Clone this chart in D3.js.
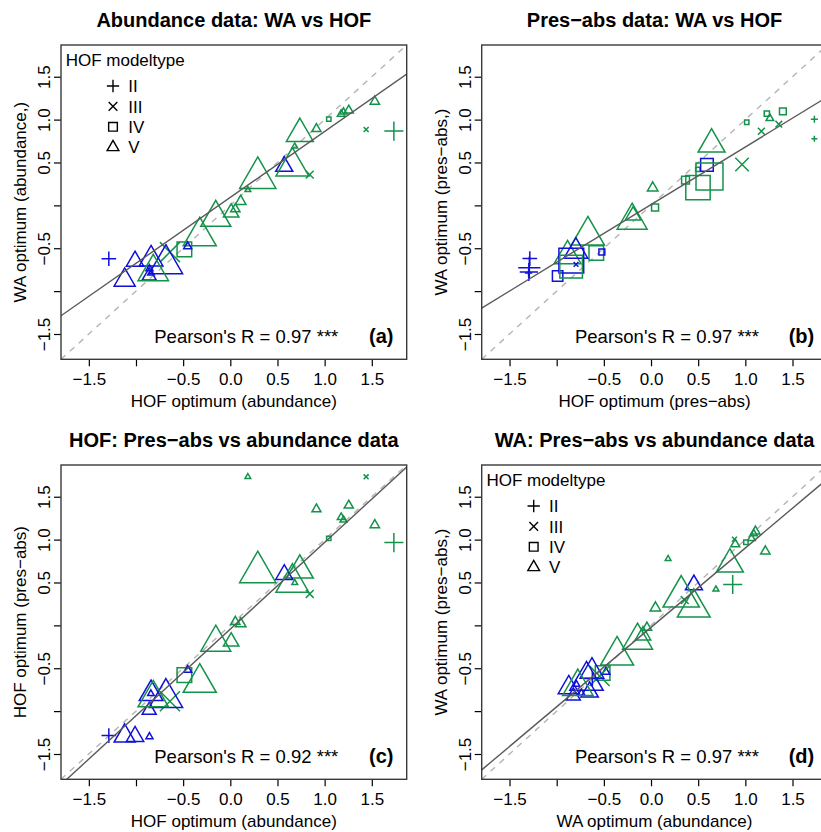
<!DOCTYPE html>
<html><head><meta charset="utf-8">
<script src="https://cdn.jsdelivr.net/npm/d3@7"></script>
<style>
html,body{margin:0;padding:0;background:#fff;}
svg{display:block;font-family:"Liberation Sans",Arial,sans-serif;}
</style></head>
<body>
<svg id="chart" width="821" height="832"></svg>
<script>
// ---- species data (one entry per species) ----
const abHOF = [1.734, 1.44, 1.532, 1.175, 1.20, 1.256, 1.044, 0.913, 0.737, 0.683, 0.572, 0.658, 0.291, 0.842, 0.186, -0.154, -0.324, 0.009, 0.053, 0.11, -0.487, -0.452, -0.64, -1.01, -0.84, -0.683, -1.12, -0.86, -0.857, -0.842, -0.817, -1.288];
const abWA  = [0.866, 0.885, 1.212, 1.065, 1.09, 1.107, 1.006, 0.893, 0.836, 0.688, 0.455, 0.453, 0.32, 0.358, 0.181, -0.143, -0.36, -0.085, -0.043, 0.047, -0.513, -0.478, -0.545, -0.651, -0.626, -0.684, -0.872, -0.824, -0.738, -0.79, -0.776, -0.622];
const paHOF = [0.965, 1.732, 1.17, 1.26, 1.228, 1.398, 1.015, 1.355, 0.642, 0.496, 0.593, 0.498, 0.62, 0.366, 1.732, -0.2, -0.669, -0.19, 0.043, 0.018, -0.58, -0.521, -0.885, -1.295, -0.797, -0.845, -1.29, -0.99, -1.298, -0.795, -0.847, -1.285];
const paWA  = [0.476, 1.004, 0.864, 1.015, 1.07, 1.097, 0.969, 0.946, 0.713, 0.42, 0.472, 0.207, 0.336, 0.295, 0.777, -0.177, -0.352, -0.118, -0.024, 0.204, -0.556, -0.544, -0.59, -0.777, -0.536, -0.645, -0.726, -0.824, -0.79, -0.688, -0.715, -0.621];
const typeAb = ["II","III","V","V","V","V","IV","V","V","V","V","V","V","III","V","V","V","V","V","V","IV","V","III","V","V","V","V","V","V","V","V","II"];
const typePa = ["III","II","III","V","IV","IV","IV","III","V","IV","IV","IV","IV","IV","II","V","V","V","IV","V","IV","IV","V","II","V","IV","II","IV","II","III","IV","II"];
const group  = [1,1,1,1,1,1,1,1,1,1,2,1,1,1,1,1,1,1,1,1,1,2,1,2,2,2,2,2,2,2,1,2];
const weight = [1.55, 0.57, 0.8, 0.65, 0.6, 0.78, 0.5, 0.77, 2.3, 0.5, 1.45, 2.8, 3.1, 0.9, 0.49, 2.56, 2.82, 1.32, 0.8, 0.9, 1.68, 0.68, 2.3, 1.48, 2.02, 2.85, 1.8, 1.2, 0.6, 0.55, 2.6, 1.19];

// ---- regression fits (intercept, slope) and correlations per panel ----
const fitIntercept = [0.093, 0.009, -0.043, -0.023];
const fitSlope     = [0.769, 0.672, 1.0105, 0.926];
const pearson      = ["0.97", "0.97", "0.92", "0.97"];

// ---- axes ----
const tickValues  = [-1.5, -1.0, -0.5, 0.0, 0.5, 1.0, 1.5];
const xTickLabels = ["\u22121.5", "", "\u22120.5", "0.0", "0.5", "1.0", "1.5"];
const yTickLabels = ["\u22121.5", "", "\u22120.5", "", "0.5", "1.0", "1.5"];
const axisDomain  = [-1.795, 1.87];

const legendTypes  = ["II", "III", "IV", "V"];
const titles = ["Abundance data: WA vs HOF", "Pres\u2212abs data: WA vs HOF",
                "HOF: Pres\u2212abs vs abundance data", "WA: Pres\u2212abs vs abundance data"];
const xLabels = ["HOF optimum (abundance)", "HOF optimum (pres\u2212abs)", "HOF optimum (abundance)", "WA optimum (abundance)"];
const yLabels = ["WA optimum (abundance,)", "WA optimum (pres\u2212abs,)", "HOF optimum (pres\u2212abs)", "WA optimum (pres\u2212abs,)"];
const letters = ["(a)", "(b)", "(c)", "(d)"];

const colorOf = {1: "#14924a", 2: "#1010d8"};

const panels = [
  {x: abHOF, y: abWA,  t: typeAb, left: 61,    top: 45,  legend: true},
  {x: paHOF, y: paWA,  t: typePa, left: 481.7, top: 45,  legend: false},
  {x: abHOF, y: paHOF, t: typeAb, left: 61,    top: 465, legend: false},
  {x: abWA,  y: paWA,  t: typeAb, left: 481.7, top: 465, legend: true}
];
const PW = 345.7, PH = 314.3;
const UNIT = 4.35; // symbol radius per unit of weight

function symbolPath(t, R) {
  if (t === "II") { const a = 1.4142 * R; return `M${-a},0H${a}M0,${-a}V${a}`; }
  if (t === "III") { return `M${-R},${-R}L${R},${R}M${-R},${R}L${R},${-R}`; }
  if (t === "IV") { return `M${-R},${-R}H${R}V${R}H${-R}Z`; }
  return `M0,${-1.5551*R}L${1.3468*R},${0.7776*R}H${-1.3468*R}Z`;
}

const svg = d3.select("#chart");

panels.forEach((p, k) => {
  const g = svg.append("g").attr("transform", `translate(${p.left},${p.top})`);
  const x = d3.scaleLinear().domain(axisDomain).range([0, PW]);
  const y = d3.scaleLinear().domain(axisDomain).range([PH, 0]);

  const clipId = "clip" + k;
  g.append("clipPath").attr("id", clipId).append("rect").attr("width", PW).attr("height", PH);
  const plot = g.append("g").attr("clip-path", `url(#${clipId})`);

  // identity line (dashed)
  plot.append("line")
    .attr("x1", x(axisDomain[0])).attr("y1", y(axisDomain[0]))
    .attr("x2", x(axisDomain[1])).attr("y2", y(axisDomain[1]))
    .attr("stroke", "#b4b4b4").attr("stroke-width", 1.4).attr("stroke-dasharray", "6,6");

  // points
  const idx = d3.range(p.x.length);
  plot.selectAll("path.pt").data(idx).join("path")
    .attr("class", "pt")
    .attr("transform", i => `translate(${x(p.x[i])},${y(p.y[i])})`)
    .attr("d", i => symbolPath(p.t[i], UNIT * weight[i]))
    .attr("fill", "none")
    .attr("stroke", i => colorOf[group[i]])
    .attr("stroke-width", 1.5);

  // regression line
  const a = fitIntercept[k], b = fitSlope[k];
  plot.append("line")
    .attr("x1", x(axisDomain[0])).attr("y1", y(a + b * axisDomain[0]))
    .attr("x2", x(axisDomain[1])).attr("y2", y(a + b * axisDomain[1]))
    .attr("stroke", "#5a5a5a").attr("stroke-width", 1.4);

  // axes
  const xa = g.append("g").attr("transform", `translate(0,${PH})`)
    .call(d3.axisBottom(x).tickValues(tickValues).tickSize(7).tickFormat((d, i) => xTickLabels[i]));
  xa.select(".domain").remove();
  xa.selectAll("line").attr("stroke", "#000").attr("stroke-width", 1.2);
  xa.selectAll("text").attr("y", 25.7).attr("dy", 0).attr("font-size", 17)
    .attr("font-family", "Liberation Sans, Arial, sans-serif").attr("fill", "#000");

  const ya = g.append("g")
    .call(d3.axisLeft(y).tickValues(tickValues).tickSize(7).tickFormat((d, i) => yTickLabels[i]));
  ya.select(".domain").remove();
  ya.selectAll("line").attr("stroke", "#000").attr("stroke-width", 1.2);
  ya.selectAll("text").attr("x", 0).attr("dy", 0)
    .attr("transform", "translate(-11,0) rotate(-90)")
    .attr("text-anchor", "middle").attr("font-size", 17)
    .attr("font-family", "Liberation Sans, Arial, sans-serif").attr("fill", "#000");

  // frame
  g.append("rect").attr("width", PW).attr("height", PH)
    .attr("fill", "none").attr("stroke", "#3a3a3a").attr("stroke-width", 1.4);

  // titles and labels
  g.append("text").attr("x", PW / 2).attr("y", -18).attr("text-anchor", "middle")
    .attr("font-size", 20).attr("font-weight", "bold").text(titles[k]);
  g.append("text").attr("x", PW / 2).attr("y", PH + 47.4).attr("text-anchor", "middle")
    .attr("font-size", 17).text(xLabels[k]);
  g.append("text").attr("transform", `translate(-35,${PH / 2}) rotate(-90)`)
    .attr("text-anchor", "middle").attr("font-size", 17).text(yLabels[k]);

  g.append("text").attr("x", 277.3).attr("y", PH - 16.6).attr("text-anchor", "end")
    .attr("font-size", 18.5).text(`Pearson's R = ${pearson[k]} ***`);
  g.append("text").attr("x", 332.5).attr("y", PH - 16.6).attr("text-anchor", "end")
    .attr("font-size", 20).attr("font-weight", "bold").text(letters[k]);

  // legend
  if (p.legend) {
    const lg = g.append("g");
    lg.append("text").attr("x", 4.7).attr("y", 20.7).attr("font-size", 17).text("HOF modeltype");
    legendTypes.forEach((t, j) => {
      const cy = 41 + j * 20.4;
      lg.append("path").attr("transform", `translate(52,${cy})`)
        .attr("d", symbolPath(t, UNIT)).attr("fill", "none").attr("stroke", "#000").attr("stroke-width", 1.4);
      lg.append("text").attr("x", 67.3).attr("y", cy + 6.1).attr("font-size", 17).text(t);
    });
  }
});
</script>
</body></html>
